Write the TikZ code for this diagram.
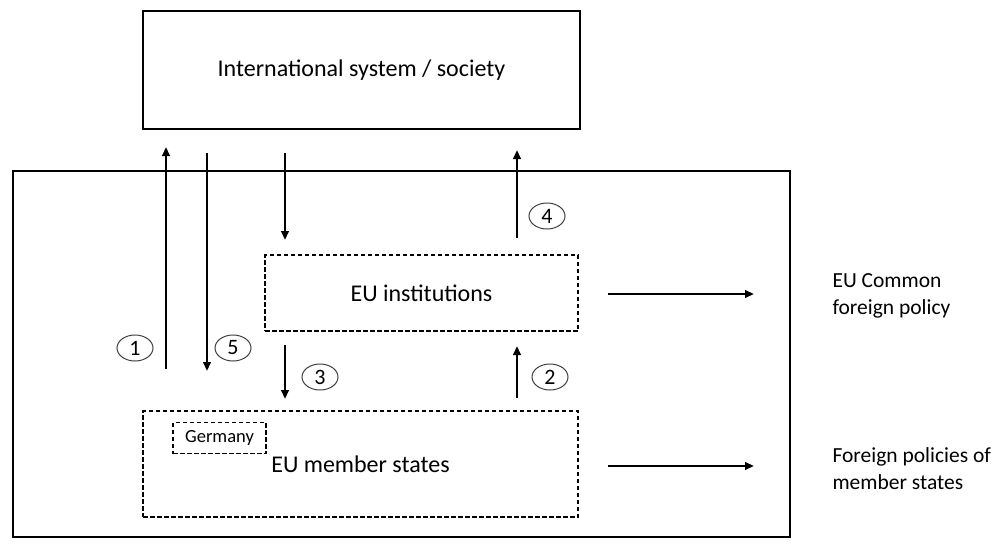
\documentclass[tikz,border=0pt]{standalone}
\usepackage{fontspec}
\setmainfont{Carlito}
\usetikzlibrary{arrows.meta,shapes.geometric}
\begin{document}
\begin{tikzpicture}[x=1pt,y=-1pt,
  solidbox/.style={draw,line width=2.1pt,rectangle,inner sep=0pt},
  dashbox/.style={draw,line width=1.4pt,dash pattern=on 4.5pt off 2.5pt,rectangle,inner sep=0pt},
  flow/.style={line width=2.6pt,-{Triangle[length=9pt,width=7.5pt]}},
  num/.style={draw=black!75,line width=1pt,ellipse,minimum width=36pt,minimum height=26pt,inner sep=0pt,font=\fontsize{22}{22}\selectfont},
  lab/.style={font=\fontsize{24}{24}\selectfont},
  side/.style={font=\fontsize{21.5}{27}\selectfont,align=left,anchor=west}]
\useasboundingbox (0,0) rectangle (997,544);
\fill[white] (0,0) rectangle (997,544);
% boxes
\node[solidbox,minimum width=437pt,minimum height=118pt,lab] (intl) at (361.5,70) {International system / society};
\node[solidbox,minimum width=777pt,minimum height=366pt] (eu) at (401.5,354) {};
\node[dashbox,minimum width=313pt,minimum height=76pt,lab] (inst) at (421.5,293) {EU institutions};
\node[dashbox,minimum width=435pt,minimum height=106pt,lab] (ms) at (360.5,464) {EU member states};
\node[dashbox,minimum width=93pt,minimum height=31pt,font=\fontsize{18.5}{18.5}\selectfont] (de) at (219.5,438) {Germany};
% arrow endpoints
\coordinate (a1s) at (166,369); \coordinate (a1e) at (166,147);
\coordinate (a5s) at (207,153); \coordinate (a5e) at (207,371);
\coordinate (ats) at (285,153); \coordinate (ate) at (285,240);
\coordinate (a4s) at (517,238); \coordinate (a4e) at (517,150);
\coordinate (a3s) at (285,345); \coordinate (a3e) at (285,399);
\coordinate (a2s) at (517,398); \coordinate (a2e) at (517,346);
\coordinate (r1s) at (608,294); \coordinate (r1e) at (754,294);
\coordinate (r2s) at (608,466); \coordinate (r2e) at (754,466);
\draw[flow] (a1s) -- (a1e);
\draw[flow] (a5s) -- (a5e);
\draw[flow] (ats) -- (ate);
\draw[flow] (a4s) -- (a4e);
\draw[flow] (a3s) -- (a3e);
\draw[flow] (a2s) -- (a2e);
\draw[flow] (r1s) -- (r1e);
\draw[flow] (r2s) -- (r2e);
% numbers
\node[num] (n1) at (135,348) {1};
\node[num] (n5) at (233,348) {5};
\node[num] (n3) at (320,377) {3};
\node[num] (n2) at (550,377) {2};
\node[num] (n4) at (547,216) {4};
% side labels
\node[side] (cfp) at (829,296) {EU Common\\foreign policy};
\node[side] (fpm) at (829,469) {Foreign policies of\\member states};
\end{tikzpicture}
\end{document}
